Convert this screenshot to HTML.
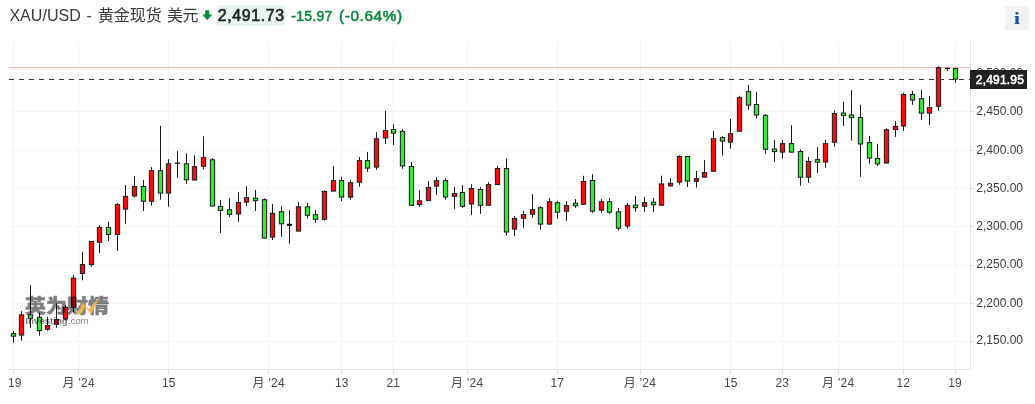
<!DOCTYPE html>
<html lang="zh"><head><meta charset="utf-8"><title>XAU/USD</title>
<style>
html,body{margin:0;padding:0;background:#fff;}
body{width:1035px;height:404px;position:relative;overflow:hidden;font-family:"Liberation Sans","Noto Sans CJK SC",sans-serif;}
.abs{position:absolute;white-space:nowrap;}
.title{top:4.2px;font-size:16px;line-height:24px;color:#3b3b3b;letter-spacing:-0.05px}
.price{left:217px;top:5px;width:68px;height:20.5px;background:#eaf4ef;}
.price span{position:absolute;left:0.7px;top:-1px;font-size:15.9px;line-height:24px;font-weight:normal;-webkit-text-stroke:0.65px #232526;color:#232526;letter-spacing:0.64px}
.chg{top:3.8px;transform-origin:0 50%;font-size:14px;line-height:24px;font-weight:normal;-webkit-text-stroke:0.55px #0b8a41;color:#0b8a41;}
.xl{top:375px;font-size:12px;line-height:16px;color:#4a4a4a;transform:translateX(-50%);}
.yl{left:976.3px;font-size:12px;line-height:16px;color:#3a3a3a;}
.plabel{left:970px;top:70px;width:57px;height:18.5px;background:#212121;color:#fff;font-weight:normal;-webkit-text-stroke:0.55px #fff;font-size:12px;line-height:18.6px;}
.plabel span{position:absolute;left:5.8px;top:0.7px;letter-spacing:0.2px}
.ibtn{left:1005px;top:6px;width:24px;height:24px;background:#f2f2f2;}
.ibtn span{position:absolute;left:0;width:24px;text-align:center;top:1.3px;transform:scaleX(1.35);font-family:"Liberation Serif","Noto Serif CJK SC",serif;font-weight:bold;font-size:17px;line-height:24px;color:#1256a0}
.wm{left:25px;top:294.1px;opacity:0.5;color:#000;}
.wm .cn{position:absolute;left:0;top:0;font-size:21px;line-height:24px;font-weight:900;letter-spacing:0px;transform:scale(1,0.9);transform-origin:0 3px;-webkit-text-stroke:0.5px #000;font-family:"Noto Sans CJK SC","Liberation Sans",sans-serif}
.wm .en{position:absolute;left:0.3px;top:19.6px;color:#000;font-size:9.9px;line-height:13px;letter-spacing:-0.1px}
</style></head><body>
<svg width="1035" height="404" viewBox="0 0 1035 404" style="position:absolute;left:0;top:0"><g stroke="#f2f3f7" stroke-width="1" fill="none"><line x1="13.5" y1="41" x2="13.5" y2="369.5"/><line x1="78.5" y1="41" x2="78.5" y2="369.5"/><line x1="168.5" y1="41" x2="168.5" y2="369.5"/><line x1="268.5" y1="41" x2="268.5" y2="369.5"/><line x1="341.5" y1="41" x2="341.5" y2="369.5"/><line x1="393.5" y1="41" x2="393.5" y2="369.5"/><line x1="467.5" y1="41" x2="467.5" y2="369.5"/><line x1="557.5" y1="41" x2="557.5" y2="369.5"/><line x1="640.5" y1="41" x2="640.5" y2="369.5"/><line x1="730.5" y1="41" x2="730.5" y2="369.5"/><line x1="782.5" y1="41" x2="782.5" y2="369.5"/><line x1="838.5" y1="41" x2="838.5" y2="369.5"/><line x1="903.5" y1="41" x2="903.5" y2="369.5"/><line x1="955.5" y1="41" x2="955.5" y2="369.5"/></g><g stroke="#f5f6f9" stroke-width="1" fill="none"><line x1="9" y1="73.5" x2="970" y2="73.5"/><line x1="9" y1="111.5" x2="970" y2="111.5"/><line x1="9" y1="150.5" x2="970" y2="150.5"/><line x1="9" y1="188.5" x2="970" y2="188.5"/><line x1="9" y1="226.5" x2="970" y2="226.5"/><line x1="9" y1="265.5" x2="970" y2="265.5"/><line x1="9" y1="303.5" x2="970" y2="303.5"/><line x1="9" y1="341.5" x2="970" y2="341.5"/></g><g stroke="#dde1ec" stroke-width="1" fill="none"><line x1="970.5" y1="41" x2="970.5" y2="370"/><line x1="9" y1="369.5" x2="971" y2="369.5"/><line x1="13.5" y1="369.5" x2="13.5" y2="374.5"/><line x1="78.5" y1="369.5" x2="78.5" y2="374.5"/><line x1="168.5" y1="369.5" x2="168.5" y2="374.5"/><line x1="268.5" y1="369.5" x2="268.5" y2="374.5"/><line x1="341.5" y1="369.5" x2="341.5" y2="374.5"/><line x1="393.5" y1="369.5" x2="393.5" y2="374.5"/><line x1="467.5" y1="369.5" x2="467.5" y2="374.5"/><line x1="557.5" y1="369.5" x2="557.5" y2="374.5"/><line x1="640.5" y1="369.5" x2="640.5" y2="374.5"/><line x1="730.5" y1="369.5" x2="730.5" y2="374.5"/><line x1="782.5" y1="369.5" x2="782.5" y2="374.5"/><line x1="838.5" y1="369.5" x2="838.5" y2="374.5"/><line x1="903.5" y1="369.5" x2="903.5" y2="374.5"/><line x1="955.5" y1="369.5" x2="955.5" y2="374.5"/><line x1="970.5" y1="111.5" x2="974" y2="111.5"/><line x1="970.5" y1="150.5" x2="974" y2="150.5"/><line x1="970.5" y1="188.5" x2="974" y2="188.5"/><line x1="970.5" y1="226.5" x2="974" y2="226.5"/><line x1="970.5" y1="265.5" x2="974" y2="265.5"/><line x1="970.5" y1="303.5" x2="974" y2="303.5"/><line x1="970.5" y1="341.5" x2="974" y2="341.5"/></g><line x1="9" y1="67.5" x2="970" y2="67.5" stroke="#fbb6b6" stroke-width="1"/><line x1="9" y1="79.5" x2="970" y2="79.5" stroke="#3a3a3a" stroke-width="1.2" stroke-dasharray="5.1 4.9"/><g stroke="#1a1a1a" stroke-width="1" fill="none"><line x1="13.5" y1="331.0" x2="13.5" y2="342.7"/><line x1="21.5" y1="311.2" x2="21.5" y2="340.7"/><line x1="30.5" y1="285.0" x2="30.5" y2="327.8"/><line x1="39.5" y1="312.6" x2="39.5" y2="335.7"/><line x1="47.5" y1="317.0" x2="47.5" y2="330.8"/><line x1="56.5" y1="303.3" x2="56.5" y2="327.8"/><line x1="65.5" y1="305.2" x2="65.5" y2="320.5"/><line x1="73.5" y1="275.0" x2="73.5" y2="312.6"/><line x1="82.5" y1="251.9" x2="82.5" y2="280.3"/><line x1="91.5" y1="241.2" x2="91.5" y2="266.7"/><line x1="99.5" y1="225.1" x2="99.5" y2="252.9"/><line x1="108.5" y1="221.8" x2="108.5" y2="241.0"/><line x1="117.5" y1="203.0" x2="117.5" y2="250.9"/><line x1="125.5" y1="185.0" x2="125.5" y2="223.8"/><line x1="134.5" y1="176.0" x2="134.5" y2="197.6"/><line x1="143.5" y1="180.0" x2="143.5" y2="211.0"/><line x1="151.5" y1="167.1" x2="151.5" y2="205.7"/><line x1="160.5" y1="125.9" x2="160.5" y2="199.7"/><line x1="168.5" y1="159.2" x2="168.5" y2="206.7"/><line x1="177.5" y1="151.1" x2="177.5" y2="177.7"/><line x1="186.5" y1="153.3" x2="186.5" y2="183.9"/><line x1="194.5" y1="155.2" x2="194.5" y2="180.4"/><line x1="203.5" y1="136.2" x2="203.5" y2="169.5"/><line x1="212.5" y1="158.0" x2="212.5" y2="206.2"/><line x1="220.5" y1="200.1" x2="220.5" y2="233.0"/><line x1="229.5" y1="198.1" x2="229.5" y2="216.9"/><line x1="238.5" y1="192.2" x2="238.5" y2="221.9"/><line x1="246.5" y1="186.2" x2="246.5" y2="206.0"/><line x1="255.5" y1="190.0" x2="255.5" y2="211.0"/><line x1="264.5" y1="198.3" x2="264.5" y2="238.3"/><line x1="272.5" y1="204.0" x2="272.5" y2="239.9"/><line x1="281.5" y1="206.2" x2="281.5" y2="236.7"/><line x1="289.5" y1="210.1" x2="289.5" y2="243.6"/><line x1="298.5" y1="202.0" x2="298.5" y2="231.3"/><line x1="307.5" y1="203.0" x2="307.5" y2="218.5"/><line x1="315.5" y1="210.1" x2="315.5" y2="222.8"/><line x1="324.5" y1="190.3" x2="324.5" y2="220.8"/><line x1="333.5" y1="166.0" x2="333.5" y2="191.3"/><line x1="341.5" y1="176.9" x2="341.5" y2="201.0"/><line x1="350.5" y1="179.9" x2="350.5" y2="199.7"/><line x1="359.5" y1="157.0" x2="359.5" y2="186.8"/><line x1="367.5" y1="151.9" x2="367.5" y2="171.8"/><line x1="376.5" y1="132.1" x2="376.5" y2="169.9"/><line x1="385.5" y1="110.9" x2="385.5" y2="144.0"/><line x1="393.5" y1="124.2" x2="393.5" y2="145.0"/><line x1="402.5" y1="129.1" x2="402.5" y2="168.8"/><line x1="411.5" y1="162.0" x2="411.5" y2="205.5"/><line x1="419.5" y1="190.1" x2="419.5" y2="206.9"/><line x1="428.5" y1="181.2" x2="428.5" y2="200.6"/><line x1="436.5" y1="177.2" x2="436.5" y2="195.0"/><line x1="445.5" y1="178.2" x2="445.5" y2="199.6"/><line x1="454.5" y1="187.1" x2="454.5" y2="208.9"/><line x1="462.5" y1="185.1" x2="462.5" y2="207.9"/><line x1="471.5" y1="184.2" x2="471.5" y2="214.9"/><line x1="480.5" y1="187.3" x2="480.5" y2="213.9"/><line x1="488.5" y1="182.2" x2="488.5" y2="205.5"/><line x1="497.5" y1="165.9" x2="497.5" y2="184.8"/><line x1="506.5" y1="158.5" x2="506.5" y2="235.5"/><line x1="514.5" y1="216.0" x2="514.5" y2="235.8"/><line x1="523.5" y1="211.0" x2="523.5" y2="227.7"/><line x1="532.5" y1="194.0" x2="532.5" y2="217.8"/><line x1="540.5" y1="206.1" x2="540.5" y2="229.7"/><line x1="549.5" y1="198.0" x2="549.5" y2="224.7"/><line x1="557.5" y1="201.1" x2="557.5" y2="218.8"/><line x1="566.5" y1="201.1" x2="566.5" y2="220.7"/><line x1="575.5" y1="199.0" x2="575.5" y2="207.9"/><line x1="583.5" y1="175.8" x2="583.5" y2="204.5"/><line x1="592.5" y1="174.2" x2="592.5" y2="212.8"/><line x1="601.5" y1="199.0" x2="601.5" y2="212.8"/><line x1="609.5" y1="198.0" x2="609.5" y2="213.8"/><line x1="618.5" y1="208.0" x2="618.5" y2="230.5"/><line x1="627.5" y1="203.1" x2="627.5" y2="228.6"/><line x1="635.5" y1="195.9" x2="635.5" y2="211.8"/><line x1="644.5" y1="196.9" x2="644.5" y2="211.8"/><line x1="653.5" y1="197.9" x2="653.5" y2="211.8"/><line x1="661.5" y1="175.7" x2="661.5" y2="205.4"/><line x1="670.5" y1="178.1" x2="670.5" y2="186.6"/><line x1="679.5" y1="155.3" x2="679.5" y2="184.7"/><line x1="687.5" y1="155.9" x2="687.5" y2="187.0"/><line x1="696.5" y1="170.8" x2="696.5" y2="187.6"/><line x1="704.5" y1="159.9" x2="704.5" y2="177.7"/><line x1="713.5" y1="131.0" x2="713.5" y2="171.4"/><line x1="722.5" y1="136.0" x2="722.5" y2="155.5"/><line x1="730.5" y1="119.0" x2="730.5" y2="148.7"/><line x1="739.5" y1="95.8" x2="739.5" y2="131.4"/><line x1="748.5" y1="84.9" x2="748.5" y2="109.7"/><line x1="756.5" y1="92.2" x2="756.5" y2="118.6"/><line x1="765.5" y1="114.0" x2="765.5" y2="153.7"/><line x1="774.5" y1="140.1" x2="774.5" y2="162.0"/><line x1="782.5" y1="140.1" x2="782.5" y2="158.6"/><line x1="791.5" y1="125.2" x2="791.5" y2="152.5"/><line x1="800.5" y1="149.3" x2="800.5" y2="185.7"/><line x1="808.5" y1="157.0" x2="808.5" y2="182.8"/><line x1="817.5" y1="147.2" x2="817.5" y2="172.9"/><line x1="825.5" y1="140.1" x2="825.5" y2="167.9"/><line x1="834.5" y1="110.7" x2="834.5" y2="146.8"/><line x1="843.5" y1="101.8" x2="843.5" y2="126.0"/><line x1="851.5" y1="90.0" x2="851.5" y2="140.6"/><line x1="860.5" y1="104.8" x2="860.5" y2="176.8"/><line x1="869.5" y1="135.9" x2="869.5" y2="163.6"/><line x1="877.5" y1="143.8" x2="877.5" y2="166.0"/><line x1="886.5" y1="128.2" x2="886.5" y2="163.6"/><line x1="895.5" y1="121.0" x2="895.5" y2="136.9"/><line x1="903.5" y1="92.9" x2="903.5" y2="130.9"/><line x1="912.5" y1="90.9" x2="912.5" y2="104.8"/><line x1="921.5" y1="90.0" x2="921.5" y2="120.0"/><line x1="929.5" y1="95.9" x2="929.5" y2="125.0"/><line x1="938.5" y1="66.2" x2="938.5" y2="110.8"/><line x1="947.5" y1="67.8" x2="947.5" y2="70.8"/><line x1="955.5" y1="67.8" x2="955.5" y2="82.7"/></g><g stroke="#1a1a1a" stroke-width="1"><rect x="11.35" y="333.6" width="4.3" height="2.6" fill="#34e934"/><rect x="19.35" y="314.8" width="4.3" height="20.3" fill="#fc0a0a"/><rect x="28.35" y="314.8" width="4.3" height="3.5" fill="#34e934"/><rect x="37.35" y="317.3" width="4.3" height="13.3" fill="#34e934"/><rect x="45.35" y="325.6" width="4.3" height="3.6" fill="#fc0a0a"/><rect x="54.35" y="319.7" width="4.3" height="4.6" fill="#fc0a0a"/><rect x="63.35" y="307.4" width="4.3" height="11.5" fill="#fc0a0a"/><rect x="71.35" y="278.1" width="4.3" height="29.3" fill="#fc0a0a"/><rect x="80.35" y="264.6" width="4.3" height="8.9" fill="#fc0a0a"/><rect x="89.35" y="241.4" width="4.3" height="23.2" fill="#fc0a0a"/><rect x="97.35" y="227.5" width="4.3" height="14.7" fill="#fc0a0a"/><rect x="106.35" y="227.5" width="4.3" height="7.0" fill="#34e934"/><rect x="115.35" y="204.6" width="4.3" height="29.9" fill="#fc0a0a"/><rect x="123.35" y="196.4" width="4.3" height="12.7" fill="#fc0a0a"/><rect x="132.35" y="186.5" width="4.3" height="9.5" fill="#fc0a0a"/><rect x="141.35" y="186.5" width="4.3" height="14.7" fill="#34e934"/><rect x="149.35" y="170.7" width="4.3" height="30.5" fill="#fc0a0a"/><rect x="158.35" y="170.7" width="4.3" height="22.4" fill="#34e934"/><rect x="166.35" y="163.8" width="4.3" height="29.3" fill="#fc0a0a"/><rect x="174.9" y="162.6" width="5.2" height="1.2" fill="#000" stroke="none"/><rect x="184.35" y="163.8" width="4.3" height="16.0" fill="#34e934"/><rect x="192.35" y="166.7" width="4.3" height="13.3" fill="#fc0a0a"/><rect x="201.35" y="157.4" width="4.3" height="8.9" fill="#fc0a0a"/><rect x="210.35" y="159.8" width="4.3" height="46.2" fill="#34e934"/><rect x="218.35" y="206.4" width="4.3" height="4.0" fill="#34e934"/><rect x="227.35" y="209.8" width="4.3" height="4.6" fill="#34e934"/><rect x="236.35" y="202.5" width="4.3" height="11.5" fill="#fc0a0a"/><rect x="244.35" y="197.5" width="4.3" height="4.6" fill="#fc0a0a"/><rect x="253.35" y="198.1" width="4.3" height="2.6" fill="#34e934"/><rect x="262.35" y="199.7" width="4.3" height="38.4" fill="#34e934"/><rect x="270.35" y="213.3" width="4.3" height="23.8" fill="#fc0a0a"/><rect x="279.35" y="211.7" width="4.3" height="12.1" fill="#34e934"/><rect x="286.9" y="223.8" width="5.2" height="2.0" fill="#000" stroke="none"/><rect x="296.35" y="206.8" width="4.3" height="24.3" fill="#fc0a0a"/><rect x="305.35" y="206.8" width="4.3" height="8.5" fill="#34e934"/><rect x="313.35" y="214.7" width="4.3" height="4.6" fill="#34e934"/><rect x="322.35" y="191.5" width="4.3" height="27.8" fill="#fc0a0a"/><rect x="331.35" y="180.6" width="4.3" height="10.5" fill="#fc0a0a"/><rect x="339.35" y="180.6" width="4.3" height="16.5" fill="#34e934"/><rect x="348.35" y="182.6" width="4.3" height="14.5" fill="#fc0a0a"/><rect x="357.35" y="160.6" width="4.3" height="21.6" fill="#fc0a0a"/><rect x="365.35" y="160.6" width="4.3" height="7.5" fill="#34e934"/><rect x="374.35" y="138.8" width="4.3" height="28.3" fill="#fc0a0a"/><rect x="383.35" y="130.5" width="4.3" height="7.5" fill="#fc0a0a"/><rect x="391.35" y="129.5" width="4.3" height="3.6" fill="#34e934"/><rect x="400.35" y="131.3" width="4.3" height="34.6" fill="#34e934"/><rect x="409.35" y="166.5" width="4.3" height="38.8" fill="#34e934"/><rect x="417.35" y="200.8" width="4.3" height="3.6" fill="#fc0a0a"/><rect x="426.35" y="187.5" width="4.3" height="12.9" fill="#fc0a0a"/><rect x="434.35" y="180.6" width="4.3" height="5.5" fill="#fc0a0a"/><rect x="443.35" y="180.6" width="4.3" height="16.4" fill="#34e934"/><rect x="452.35" y="193.5" width="4.3" height="2.9" fill="#fc0a0a"/><rect x="460.35" y="192.5" width="4.3" height="13.8" fill="#34e934"/><rect x="469.35" y="188.5" width="4.3" height="15.5" fill="#fc0a0a"/><rect x="478.35" y="189.5" width="4.3" height="15.8" fill="#34e934"/><rect x="486.35" y="184.6" width="4.3" height="20.7" fill="#fc0a0a"/><rect x="495.35" y="168.5" width="4.3" height="16.1" fill="#fc0a0a"/><rect x="504.35" y="168.6" width="4.3" height="63.4" fill="#34e934"/><rect x="512.35" y="218.4" width="4.3" height="10.7" fill="#fc0a0a"/><rect x="521.35" y="214.6" width="4.3" height="3.6" fill="#fc0a0a"/><rect x="530.35" y="209.7" width="4.3" height="4.5" fill="#fc0a0a"/><rect x="538.35" y="207.7" width="4.3" height="16.4" fill="#34e934"/><rect x="547.35" y="201.7" width="4.3" height="22.4" fill="#fc0a0a"/><rect x="555.35" y="202.7" width="4.3" height="9.5" fill="#34e934"/><rect x="564.35" y="205.7" width="4.3" height="5.5" fill="#fc0a0a"/><rect x="573.35" y="203.2" width="4.3" height="2.6" fill="#34e934"/><rect x="581.35" y="181.5" width="4.3" height="22.8" fill="#fc0a0a"/><rect x="590.35" y="180.5" width="4.3" height="30.7" fill="#34e934"/><rect x="599.35" y="201.7" width="4.3" height="8.5" fill="#fc0a0a"/><rect x="607.35" y="201.7" width="4.3" height="10.5" fill="#34e934"/><rect x="616.35" y="211.8" width="4.3" height="16.4" fill="#34e934"/><rect x="625.35" y="205.6" width="4.3" height="20.4" fill="#fc0a0a"/><rect x="633.35" y="205.1" width="4.3" height="2.6" fill="#34e934"/><rect x="642.35" y="202.7" width="4.3" height="3.5" fill="#fc0a0a"/><rect x="651.35" y="202.2" width="4.3" height="2.6" fill="#34e934"/><rect x="659.35" y="183.9" width="4.3" height="21.3" fill="#fc0a0a"/><rect x="668.35" y="183.3" width="4.3" height="2.6" fill="#fc0a0a"/><rect x="677.35" y="156.5" width="4.3" height="25.6" fill="#fc0a0a"/><rect x="685.35" y="156.5" width="4.3" height="24.6" fill="#34e934"/><rect x="694.35" y="178.7" width="4.3" height="2.6" fill="#fc0a0a"/><rect x="702.35" y="172.6" width="4.3" height="4.5" fill="#fc0a0a"/><rect x="711.35" y="138.6" width="4.3" height="32.6" fill="#fc0a0a"/><rect x="720.35" y="137.6" width="4.3" height="3.5" fill="#34e934"/><rect x="728.35" y="133.6" width="4.3" height="8.5" fill="#fc0a0a"/><rect x="737.35" y="97.6" width="4.3" height="33.6" fill="#fc0a0a"/><rect x="746.35" y="91.6" width="4.3" height="13.5" fill="#34e934"/><rect x="754.35" y="104.5" width="4.3" height="10.5" fill="#34e934"/><rect x="763.35" y="115.4" width="4.3" height="33.9" fill="#34e934"/><rect x="772.35" y="149.0" width="4.3" height="2.6" fill="#34e934"/><rect x="780.35" y="143.6" width="4.3" height="8.5" fill="#fc0a0a"/><rect x="789.35" y="143.6" width="4.3" height="8.5" fill="#34e934"/><rect x="798.35" y="151.5" width="4.3" height="25.7" fill="#34e934"/><rect x="806.35" y="161.4" width="4.3" height="15.8" fill="#fc0a0a"/><rect x="815.35" y="159.6" width="4.3" height="2.6" fill="#34e934"/><rect x="823.35" y="143.6" width="4.3" height="18.4" fill="#fc0a0a"/><rect x="832.35" y="113.5" width="4.3" height="28.7" fill="#fc0a0a"/><rect x="841.35" y="113.0" width="4.3" height="2.6" fill="#34e934"/><rect x="849.35" y="115.0" width="4.3" height="2.6" fill="#34e934"/><rect x="858.35" y="117.5" width="4.3" height="26.5" fill="#34e934"/><rect x="867.35" y="142.6" width="4.3" height="15.5" fill="#34e934"/><rect x="875.35" y="158.5" width="4.3" height="5.5" fill="#34e934"/><rect x="884.35" y="129.8" width="4.3" height="33.2" fill="#fc0a0a"/><rect x="893.35" y="126.4" width="4.3" height="3.0" fill="#fc0a0a"/><rect x="901.35" y="94.5" width="4.3" height="31.5" fill="#fc0a0a"/><rect x="910.35" y="94.5" width="4.3" height="5.5" fill="#34e934"/><rect x="919.35" y="98.7" width="4.3" height="14.4" fill="#34e934"/><rect x="927.35" y="107.6" width="4.3" height="5.5" fill="#fc0a0a"/><rect x="936.35" y="67.6" width="4.3" height="38.6" fill="#fc0a0a"/><rect x="944.9" y="67.8" width="5.2" height="1.2" fill="#000" stroke="none"/><rect x="953.35" y="68.6" width="4.3" height="10.5" fill="#34e934"/></g></svg>
<div class="abs title" style="left:9.4px;letter-spacing:0.06px">XAU/USD</div>
<div class="abs title" style="left:86.6px">-</div>
<div class="abs title" style="left:97.9px;letter-spacing:-0.05px">黄金现货</div>
<div class="abs title" style="left:166.9px;letter-spacing:-0.5px">美元</div>
<svg class="abs" style="left:202.2px;top:10.1px" width="10.5" height="10.5" viewBox="0 0 10.5 10.5"><path d="M3.2 0.2h4.1v4.3h3L5.25 10.3 0.2 4.5h3z" fill="#0b8a3e"/></svg>
<div class="abs price"><span>2,491.73</span></div>
<div class="abs chg" style="left:291.2px;letter-spacing:0.3px">-15.97</div>
<div class="abs chg" style="left:339.3px;letter-spacing:0.52px;transform:scaleX(1.1)">(-0.64%)</div>
<div class="abs ibtn"><span>i</span></div>
<div class="abs xl" style="left:14.7px">19</div>
<div class="abs xl" style="left:78.8px;letter-spacing:0.3px">月 '24</div>
<div class="abs xl" style="left:168.8px">15</div>
<div class="abs xl" style="left:268.8px;letter-spacing:0.3px">月 '24</div>
<div class="abs xl" style="left:341.7px">13</div>
<div class="abs xl" style="left:393.3px">21</div>
<div class="abs xl" style="left:467.3px;letter-spacing:0.3px">月 '24</div>
<div class="abs xl" style="left:557.3px">17</div>
<div class="abs xl" style="left:640px;letter-spacing:0.3px">月 '24</div>
<div class="abs xl" style="left:730.7px">15</div>
<div class="abs xl" style="left:782.3px">23</div>
<div class="abs xl" style="left:838.3px;letter-spacing:0.3px">月 '24</div>
<div class="abs xl" style="left:903.3px">12</div>
<div class="abs xl" style="left:955px">19</div>
<div class="abs" style="left:0;top:372px;width:9px;height:32px;background:#fff"></div>
<div class="abs yl" style="top:64.9px">2,500.00</div>
<div class="abs plabel"><span>2,491.95</span></div>
<div class="abs yl" style="top:102.5px">2,450.00</div>
<div class="abs yl" style="top:141.5px">2,400.00</div>
<div class="abs yl" style="top:179.5px">2,350.00</div>
<div class="abs yl" style="top:217.8px">2,300.00</div>
<div class="abs yl" style="top:256.4px">2,250.00</div>
<div class="abs yl" style="top:294.7px">2,200.00</div>
<div class="abs yl" style="top:332.4px">2,150.00</div>
<div class="abs wm"><span class="cn">英为财情</span><span class="en"><b>Investing</b>.com</span></div>
<svg class="abs" style="left:74px;top:295px;opacity:0.85" width="28" height="22" viewBox="0 0 28 22"><path d="M2.1 19.5 L8.8 7.6 L14.4 14 L25.9 2.1 L17.2 19.2 L11 12.6 L6.6 19.5 Z" fill="#f9b548"/></svg>
</body></html>
